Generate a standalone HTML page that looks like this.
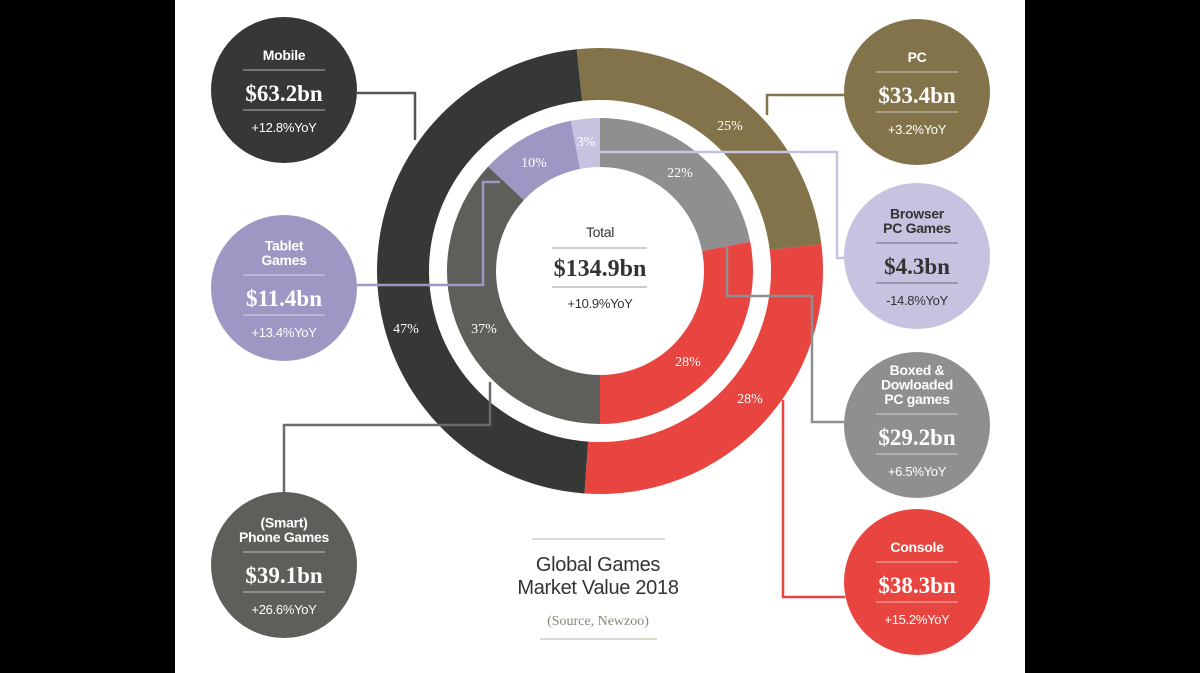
<!DOCTYPE html>
<html><head><meta charset="utf-8"><style>
html,body{margin:0;padding:0;background:#000;width:1200px;height:673px;overflow:hidden}
svg{display:block}
.t{font-family:"Liberation Sans",sans-serif;fill:#fff;text-anchor:middle;letter-spacing:-0.3px}
.v{font-family:"Liberation Serif",serif;font-weight:bold;fill:#fff;text-anchor:middle}
.p{font-family:"Liberation Serif",serif;fill:#fff;text-anchor:middle;font-size:14px}
</style></head><body>
<svg id="s" width="1200" height="673" viewBox="0 0 1200 673">
<rect x="0" y="0" width="1200" height="673" fill="#000"/>
<rect x="175" y="0" width="850" height="673" fill="#fff"/>
<g id="rings"></g>
<g fill="none" stroke-width="2.5">
<polyline points="357,93 415,93 415,140" stroke="#555"/>
<polyline points="357,285 483,285 483,182 500,182" stroke="#9e97c4"/>
<polyline points="284,493 284,425 490,425 490,382" stroke="#6a6a66"/>
<polyline points="845,95 767,95 767,115" stroke="#83734a"/>
<polyline points="845,258 837,258 837,152 598,152" stroke="#c5c3e0"/>
<polyline points="845,422 812,422 812,296 727,296 727,247" stroke="#8f8f8f"/>
<polyline points="845,597 783,597 783,400" stroke="#e84540"/>
</g>
<g class="p">
<text x="730" y="130">25%</text><text x="680" y="177">22%</text><text x="586" y="146">3%</text>
<text x="534" y="167">10%</text><text x="406" y="333">47%</text><text x="484" y="333">37%</text>
<text x="688" y="366">28%</text><text x="750" y="403">28%</text>
</g>
<text class="t" x="600" y="237" font-size="14" style="fill:#333">Total</text>
<line x1="552" y1="248" x2="647" y2="248" stroke="#999" stroke-width="1"/>
<text class="v" x="600" y="276" font-size="24" style="fill:#333">$134.9bn</text>
<line x1="552" y1="287" x2="647" y2="287" stroke="#999" stroke-width="1"/>
<text class="t" x="600" y="308" font-size="13" style="fill:#333">+10.9%YoY</text>
<line x1="532" y1="539" x2="665" y2="539" stroke="#bbb5a5" stroke-width="1"/>
<text class="t" x="598" y="571" font-size="20" style="fill:#333">Global Games</text>
<text class="t" x="598" y="594" font-size="20" style="fill:#333">Market Value 2018</text>
<text x="598" y="625" font-size="14" font-family="Liberation Serif,serif" text-anchor="middle" fill="#8a8678">(Source, Newzoo)</text>
<line x1="540" y1="639" x2="657" y2="639" stroke="#bbb5a5" stroke-width="1"/>
<g id="bub"></g>
</svg>
<script>
var NS="http://www.w3.org/2000/svg";
var cx=600,cy=271;
function arc(r0,r1,a0,a1,col){
 function pt(r,a){a=(a-90)*Math.PI/180;return [cx+r*Math.cos(a),cy+r*Math.sin(a)];}
 var lg=(a1-a0)>180?1:0;
 var p1=pt(r1,a0),p2=pt(r1,a1),p3=pt(r0,a1),p4=pt(r0,a0);
 var d="M"+p1+" A"+r1+","+r1+" 0 "+lg+" 1 "+p2+" L"+p3+" A"+r0+","+r0+" 0 "+lg+" 0 "+p4+"Z";
 var e=document.createElementNS(NS,"path");e.setAttribute("d",d);e.setAttribute("fill",col);
 document.getElementById("rings").appendChild(e);
}
arc(171,223,-6,83,"#83734a");arc(171,223,83,184,"#e84540");arc(171,223,184,354,"#353835");
arc(104,153,0,79,"#8f8f8f");arc(104,153,79,180,"#e84540");arc(104,153,180,313,"#5e5f5b");
arc(104,153,313,349,"#9e97c4");arc(104,153,349,360,"#c5c3e0");
var B=[
 [284,90,"#353835",["Mobile"],"$63.2bn","+12.8%YoY","#fff"],
 [284,288,"#9e97c4",["Tablet","Games"],"$11.4bn","+13.4%YoY","#fff"],
 [284,565,"#5e5f5b",["(Smart)","Phone Games"],"$39.1bn","+26.6%YoY","#fff"],
 [917,92,"#83734a",["PC"],"$33.4bn","+3.2%YoY","#fff"],
 [917,256,"#c5c3e0",["Browser","PC Games"],"$4.3bn","-14.8%YoY","#333"],
 [917,425,"#8f8f8f",["Boxed &","Dowloaded","PC games"],"$29.2bn","+6.5%YoY","#fff"],
 [917,582,"#e84540",["Console"],"$38.3bn","+15.2%YoY","#fff"]];
var g=document.getElementById("bub"),h="";
B.forEach(function(b){
 var x=b[0],y0=b[1],tc=b[6],n=b[3].length;
 h+='<circle cx="'+x+'" cy="'+y0+'" r="73" fill="'+b[2]+'"/>';
 var y=y0+[0,0,7,9][n];
 var last=y-30;
 b[3].forEach(function(s,i){h+='<text class="t" x="'+x+'" y="'+(last-(n-1-i)*14.5)+'" font-size="14" font-weight="bold" style="fill:'+tc+'">'+s.replace("&","&amp;")+'</text>';});
 var lc=tc=="#fff"?"rgba(255,255,255,0.6)":"rgba(0,0,0,0.45)";
 h+='<line x1="'+(x-41)+'" y1="'+(y-20)+'" x2="'+(x+41)+'" y2="'+(y-20)+'" stroke="'+lc+'"/>';
 h+='<text class="v" x="'+x+'" y="'+(y+11)+'" font-size="23" style="fill:'+tc+'">'+b[4]+'</text>';
 h+='<line x1="'+(x-41)+'" y1="'+(y+20)+'" x2="'+(x+41)+'" y2="'+(y+20)+'" stroke="'+lc+'"/>';
 h+='<text class="t" x="'+x+'" y="'+(y+42)+'" font-size="13" style="fill:'+tc+'">'+b[5]+'</text>';
});
g.innerHTML=h;
</script>
</body></html>
